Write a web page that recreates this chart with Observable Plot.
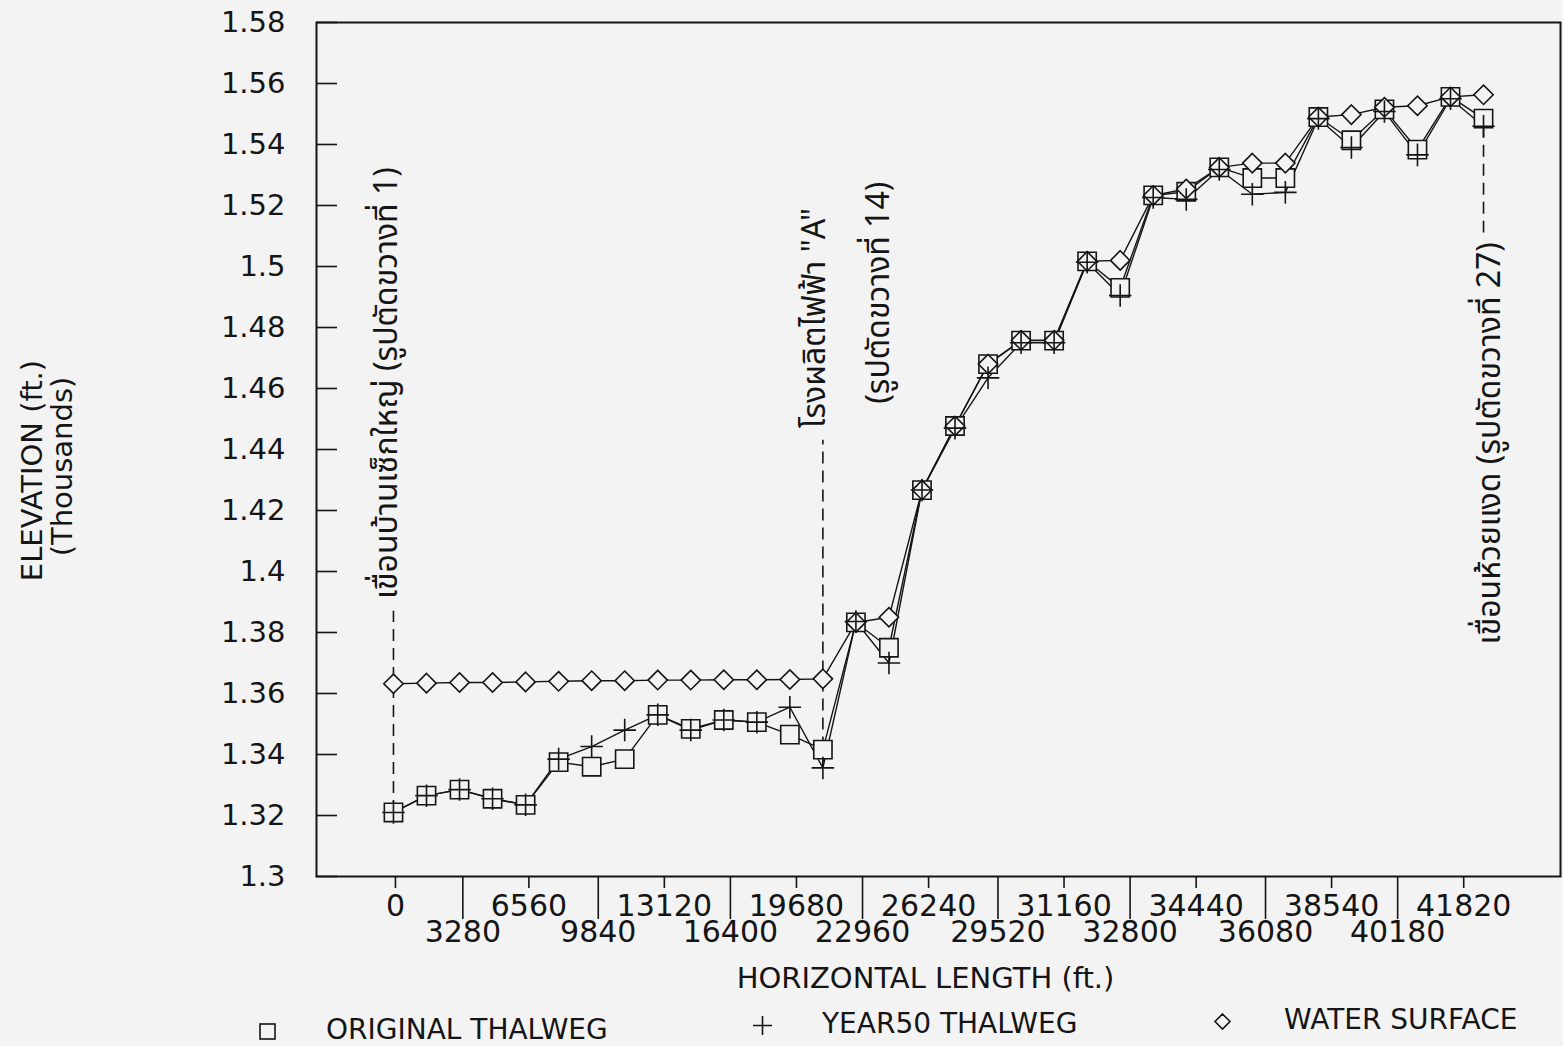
<!DOCTYPE html>
<html><head><meta charset="utf-8">
<script src="https://cdn.jsdelivr.net/npm/d3@7"></script>
<script src="https://cdn.jsdelivr.net/npm/@observablehq/plot@0.6"></script>
<style>
html,body{margin:0;padding:0;background:#f3f3f3;}
#wrap{position:relative;width:1563px;height:1046px;overflow:hidden;font-family:"DejaVu Sans",sans-serif;color:#151515;}
#chart svg{display:block}
#legend{position:absolute;left:0;top:1000px;width:1563px;height:46px;}
#legend .sym{position:absolute;display:block}
#legend .lab{position:absolute;font-size:28px;line-height:28px;white-space:nowrap}
</style></head>
<body><div id="wrap"><div id="chart"></div><div id="legend"></div></div>
<script>
// cross-section order along the river
const sections = [1,2,3,4,5,6,7,8,9,10,11,12,13,14,15,16,17,18,19,20,21,22,23,24,25,26,27,28,29,30,31,32,33,34];
// elevations, thousands of feet
const original = [1.321,1.3265,1.3285,1.3255,1.3235,1.3375,1.336,1.3385,1.353,1.3484,1.3513,1.3506,1.3465,1.3416,1.3833,1.375,1.4267,1.4477,1.468,1.4757,1.4757,1.5017,1.493,1.5233,1.5245,1.5325,1.529,1.529,1.549,1.5414,1.5515,1.5383,1.5556,1.5485];
const year50   = [1.321,1.3265,1.3285,1.3255,1.3235,1.3385,1.3426,1.348,1.353,1.348,1.3513,1.3506,1.3555,1.3356,1.3836,1.370,1.4267,1.447,1.4635,1.475,1.475,1.5014,1.4905,1.5226,1.522,1.5318,1.5237,1.5243,1.5485,1.539,1.5508,1.5366,1.555,1.546];
const water    = [1.3632,1.3634,1.3636,1.3636,1.3638,1.364,1.3642,1.3642,1.3644,1.3644,1.3645,1.3645,1.3646,1.3648,1.3833,1.385,1.4267,1.4477,1.468,1.4758,1.4758,1.5017,1.502,1.5233,1.5254,1.5325,1.5339,1.5339,1.549,1.5498,1.5522,1.5527,1.5556,1.5563];
const seriesNames = ["ORIGINAL THALWEG","YEAR50 THALWEG","WATER SURFACE"];
// x tick labels (ft) and where they sit, in cross-section units
const tickLabels = ["0","3280","6560","9840","13120","16400","19680","22960","26240","29520","31160","32800","34440","36080","38540","40180","41820"];
const tickPos    = [1.06,3.1,5.1,7.2,9.2,11.2,13.2,15.2,17.2,19.3,21.3,23.3,25.3,27.4,29.4,31.4,33.4];
const yTicks = [1.30,1.32,1.34,1.36,1.38,1.40,1.42,1.44,1.46,1.48,1.50,1.52,1.54,1.56,1.58];
// annotations: section, leader line from/to elevation, text
const noteSections = [1,14,34];
const noteFrom = [original[0], year50[13], year50[33]];
const noteTo = [1.387, 1.443, 1.511];
const noteTexts = ["เขื่อนบ้านเซ็กใหญ่ (รูปตัดขวางที่ 1)", "โรงผลิตไฟฟ้า \"A\"", "(รูปตัดขวางที่ 14)", "เขื่อนห้วยแงด (รูปตัดขวางที่ 27)"];
const noteTextY = [1.391, 1.447, 1.455, 1.508];

const rows = sections.map((s,i)=>({s, original:original[i], year50:year50[i], water:water[i]}));
const leaders = noteSections.map((s,i)=>({s, y1:noteFrom[i], y2:noteTo[i]}));
const labelAt = new Map(tickPos.map((p,i)=>[p,tickLabels[i]]));
const upperPos = tickPos.filter((p,i)=>i%2===0);
const lowerPos = tickPos.filter((p,i)=>i%2===1);
const BG = "#f3f3f3", INK = "#151515";
const thai = "'Noto Sans Thai','Noto Serif Thai','Loma','Garuda','Kinnari','Norasi','Tlwg Typo','Waree',sans-serif";
const TF = 32;

const chart = Plot.plot({
  width: 1563, height: 1000,
  marginLeft: 316, marginRight: 3, marginTop: 22, marginBottom: 124,
  x: {type: "linear", domain: [-1.33, 36.33]},
  y: {domain: [1.30, 1.58]},
  style: {background: "transparent", color: INK, fontFamily: "'DejaVu Sans',sans-serif"},
  marks: [
    Plot.frame({stroke: INK, strokeWidth: 2}),
    Plot.axisY(yTicks, {anchor: "left", label: null, tickSize: 0, tickPadding: 31, tickFormat: d => String(+d.toFixed(2)), fontSize: 29}),
    Plot.axisY(yTicks, {anchor: "left", label: null, tickSize: -21, tickFormat: () => "", strokeWidth: 1.6}),
    Plot.axisX(upperPos, {anchor: "bottom", label: null, tickSize: 12, tickPadding: 6, tickFormat: d => labelAt.get(d), fontSize: 30, strokeWidth: 1.6}),
    Plot.axisX(lowerPos, {anchor: "bottom", label: null, tickSize: 43, tickPadding: 1, tickFormat: d => labelAt.get(d), fontSize: 30, strokeWidth: 1.6}),
    Plot.text(["ELEVATION (ft.)"], {text: d => d, frameAnchor: "left", textAnchor: "middle", rotate: -90, dx: -284, dy: 21, fontSize: 29}),
    Plot.text(["(Thousands)"], {text: d => d, frameAnchor: "left", textAnchor: "middle", rotate: -90, dx: -254, dy: 17, fontSize: 29}),
    Plot.text(["HORIZONTAL LENGTH (ft.)"], {text: d => d, frameAnchor: "bottom", textAnchor: "middle", dx: -13, dy: 111, fontSize: 29}),
    Plot.ruleX(leaders, {x: "s", y1: "y1", y2: "y2", stroke: INK, strokeWidth: 1.6, strokeDasharray: "12,7"}),
    Plot.text([0], {x: () => noteSections[0], y: () => noteTextY[0], text: () => noteTexts[0], rotate: -90, textAnchor: "start", dx: -7, fontSize: TF, fontFamily: thai}),
    Plot.text([0], {x: () => noteSections[1], y: () => noteTextY[1], text: () => noteTexts[1], rotate: -90, textAnchor: "start", dx: -8, fontSize: TF, fontFamily: thai}),
    Plot.text([0], {x: () => noteSections[1], y: () => noteTextY[2], text: () => noteTexts[2], rotate: -90, textAnchor: "start", dx: 56, fontSize: TF, fontFamily: thai}),
    Plot.text([0], {x: () => noteSections[2], y: () => noteTextY[3], text: () => noteTexts[3], rotate: -90, textAnchor: "end", dx: 6, fontSize: TF, fontFamily: thai}),
    Plot.line(rows, {x: "s", y: "original", stroke: INK, strokeWidth: 1.4}),
    Plot.line(rows, {x: "s", y: "year50", stroke: INK, strokeWidth: 1.4}),
    Plot.line(rows, {x: "s", y: "water", stroke: INK, strokeWidth: 1.4}),
    Plot.dot(rows, {x: "s", y: "original", symbol: "square", r: 10.3, stroke: INK, fill: BG, strokeWidth: 1.6}),
    Plot.dot(rows, {x: "s", y: "water", symbol: "diamond2", r: 8.7, stroke: INK, fill: BG, strokeWidth: 1.6}),
    Plot.dot(rows, {x: "s", y: "year50", symbol: "plus", r: 7.3, stroke: INK, strokeWidth: 1.6})
  ]
});
document.getElementById("chart").appendChild(chart);

// legend below the chart
const legend = document.getElementById("legend");
const symbols = [
  '<rect x="3" y="3" width="15" height="15" fill="none" stroke="#151515" stroke-width="1.6"/>',
  '<path d="M10.5 1V20M1 10.5H20" stroke="#151515" stroke-width="1.6"/>',
  '<path d="M10.5 3L18 10.5L10.5 18L3 10.5Z" fill="none" stroke="#151515" stroke-width="1.6"/>'
];
const symX = [267, 762, 1222], symY = [31, 25, 21], labX = [326, 822, 1284], labY = [29, 23, 19];
seriesNames.forEach((name, i) => {
  const s = document.createElement("div");
  s.className = "sym";
  s.style.left = (symX[i] - 10.5) + "px"; s.style.top = (symY[i] - 10.5) + "px";
  s.innerHTML = `<svg width="21" height="21" viewBox="0 0 21 21">${symbols[i]}</svg>`;
  legend.appendChild(s);
  const t = document.createElement("div");
  t.className = "lab";
  t.style.left = labX[i] + "px"; t.style.top = (labY[i] - 13.5) + "px";
  t.textContent = name;
  legend.appendChild(t);
});
</script>
</body></html>
